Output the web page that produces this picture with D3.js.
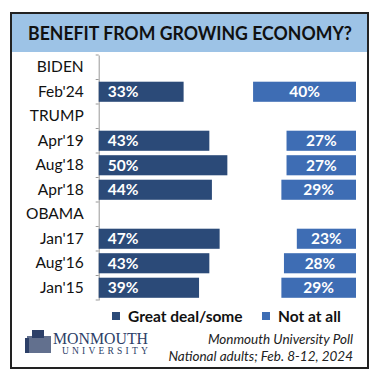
<!DOCTYPE html>
<html>
<head>
<meta charset="utf-8">
<script src="https://cdn.jsdelivr.net/npm/d3@7"></script>
<style>
  body { margin: 0; background: #fff; }
  svg { display: block; font-family: Lato, "Open Sans", sans-serif; }
</style>
</head>
<body>
<svg id="chart" width="385" height="381"></svg>
<script>
// data
const categories = ["BIDEN", "Feb'24", "TRUMP", "Apr'19", "Aug'18", "Apr'18", "OBAMA", "Jan'17", "Aug'16", "Jan'15"];
const greatDeal = [null, 33, null, 43, 50, 44, null, 47, 43, 39];
const notAtAll = [null, 40, null, 27, 27, 29, null, 23, 28, 29];
const seriesNames = ["Great deal/some", "Not at all"];
const seriesColors = ["#2b4a78", "#3e6db4"];

const svg = d3.select("#chart");

// frame + header
svg.append("rect").attr("x", 11).attr("y", 13).attr("width", 357).attr("height", 355)
    .attr("fill", "#fff").attr("stroke", "#222").attr("stroke-width", 2);
svg.append("rect").attr("x", 12).attr("y", 14).attr("width", 355).attr("height", 38)
    .attr("fill", "#9dc3e6");
svg.append("text").attr("x", 190).attr("y", 40)
    .attr("text-anchor", "middle").attr("font-size", 19).attr("font-weight", "bold")
    .attr("fill", "#111")
    .attr("textLength", 324).attr("lengthAdjust", "spacingAndGlyphs")
    .text("BENEFIT FROM GROWING ECONOMY?");

// scales
const x = d3.scaleLinear().domain([0, 100]).range([98.7, 356]);
const y = d3.scaleBand().domain(categories).range([55, 300])
    .paddingInner(0.18).paddingOuter(0.09);

const rows = categories.map((c, i) => ({cat: c, a: greatDeal[i], b: notAtAll[i]}));

// axis: labels at band centres, ticks on band boundaries
const axis = svg.append("g").attr("transform", "translate(" + x(0) + ",0)")
    .call(d3.axisLeft(y).tickSize(0).tickPadding(15));
axis.select(".domain").attr("stroke", "#999");
axis.selectAll("text").attr("font-size", 15.5).attr("fill", "#111").attr("font-family", "Lato");
const bounds = d3.range(categories.length + 1).map(i => 55 + i * y.step());
svg.append("g").selectAll("line").data(bounds).join("line")
    .attr("x1", x(0) - 3).attr("x2", x(0))
    .attr("y1", d => d).attr("y2", d => d)
    .attr("stroke", "#999");

// bars
const filled = rows.filter(r => r.a != null);
svg.append("g").selectAll("rect").data(filled).join("rect")
    .attr("x", x(0)).attr("y", d => y(d.cat))
    .attr("width", d => x(d.a) - x(0)).attr("height", y.bandwidth())
    .attr("fill", seriesColors[0]);
svg.append("g").selectAll("rect").data(filled).join("rect")
    .attr("x", d => x(100 - d.b)).attr("y", d => y(d.cat))
    .attr("width", d => x(100) - x(100 - d.b)).attr("height", y.bandwidth())
    .attr("fill", seriesColors[1]);

// bar labels
svg.append("g").selectAll("text").data(filled).join("text")
    .attr("x", x(0) + 9).attr("y", d => y(d.cat) + y.bandwidth() / 2 + 5.5)
    .attr("fill", "#fff").attr("font-size", 15.5).attr("font-weight", "bold")
    .text(d => d.a + "%");
svg.append("g").selectAll("text").data(filled).join("text")
    .attr("x", d => (x(100 - d.b) + x(100)) / 2).attr("y", d => y(d.cat) + y.bandwidth() / 2 + 5.5)
    .attr("text-anchor", "middle")
    .attr("fill", "#fff").attr("font-size", 15.5).attr("font-weight", "bold")
    .text(d => d.b + "%");

// legend
const legendX = [112, 262];
const lg = svg.append("g").selectAll("g").data(seriesNames).join("g")
    .attr("transform", (d, i) => "translate(" + legendX[i] + ",312)");
lg.append("rect").attr("width", 8).attr("height", 8).attr("fill", (d, i) => seriesColors[i]);
lg.append("text").attr("x", 16).attr("y", 9.5)
    .attr("font-size", 15.5).attr("font-weight", "bold").attr("fill", "#111")
    .text(d => d);

// logo (rough building + wordmark)
const logo = svg.append("g").attr("fill", "#2d4068");
logo.append("rect").attr("x", 27).attr("y", 336).attr("width", 24).attr("height", 17).attr("opacity", 0.75);
logo.append("rect").attr("x", 32).attr("y", 330).attr("width", 12).attr("height", 8);
logo.append("rect").attr("x", 25).attr("y", 338).attr("width", 4).attr("height", 15);
svg.append("text").attr("x", 53).attr("y", 344)
    .attr("font-family", "Liberation Serif").attr("font-size", 16).attr("fill", "#2d4068")
    .attr("textLength", 95).attr("lengthAdjust", "spacingAndGlyphs")
    .text("MONMOUTH");
svg.append("text").attr("x", 62).attr("y", 354)
    .attr("font-family", "Liberation Serif").attr("font-size", 9.5).attr("fill", "#2d4068")
    .attr("letter-spacing", 3.2)
    .text("UNIVERSITY");

// source note
const note = ["Monmouth University Poll", "National adults; Feb. 8-12, 2024"];
svg.append("g").selectAll("text").data(note).join("text")
    .attr("x", 353).attr("y", (d, i) => 344 + i * 16.5)
    .attr("text-anchor", "end").attr("font-style", "italic")
    .attr("font-size", 13.5).attr("fill", "#222")
    .text(d => d);
</script>
</body>
</html>
